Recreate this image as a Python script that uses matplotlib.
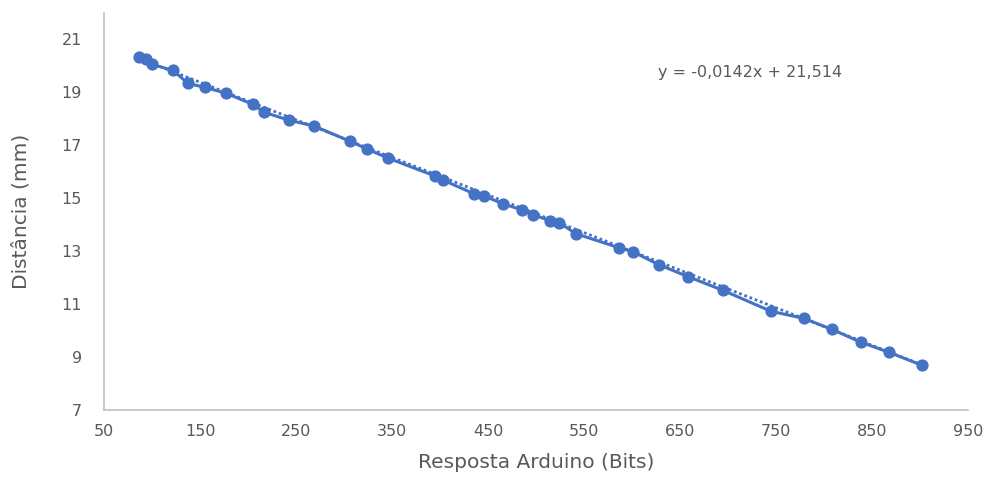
import matplotlib
matplotlib.use("Agg")
import matplotlib.pyplot as plt
import numpy as np

resposta_bits = [86.5, 93.8, 100, 121.9, 137.5, 155.2, 177, 205, 216.7, 242.7,
                 268.8, 306, 324, 345.8, 394.8, 403, 435.4, 445.8, 465.6, 485.4,
                 496.9, 514.6, 524, 541.7, 586.5, 601, 628, 658.3, 694.8, 744.8,
                 779, 808, 838.5, 867.7, 902]
distancia_mm = [20.32, 20.25, 20.06, 19.83, 19.34, 19.19, 18.97, 18.55, 18.25, 17.95,
                17.73, 17.16, 16.86, 16.52, 15.84, 15.69, 15.17, 15.09, 14.79, 14.56,
                14.38, 14.15, 14.08, 13.66, 13.13, 12.98, 12.49, 12.04, 11.52, 10.73,
                10.46, 10.05, 9.56, 9.18, 8.69]
trend_slope = -0.0142
trend_intercept = 21.514
x_ticks = [50, 150, 250, 350, 450, 550, 650, 750, 850, 950]
y_ticks = [7, 9, 11, 13, 15, 17, 19, 21]
equation = "y = -0,0142x + 21,514"

blue = "#4472C4"
grey_txt = "#595959"

fig = plt.figure(figsize=(9.84, 4.91), dpi=100)
ax = fig.add_axes([0.1057, 0.165, 0.878, 0.8085])

x = np.array(resposta_bits)
ax.plot(x, distancia_mm, color=blue, lw=2.2, marker="o", markersize=7.8,
        markeredgecolor=blue, markerfacecolor=blue, zorder=3)
xt = np.array([x.min(), x.max()])
ax.plot(xt, trend_slope * xt + trend_intercept, color=blue, lw=2.0,
        linestyle=(0, (1, 1)), zorder=2)

ax.set_xlim(50, 950)
ax.set_ylim(7, 22)
ax.set_xticks(x_ticks)
ax.set_yticks(y_ticks)
ax.tick_params(axis="x", length=0, labelsize=11.5, colors=grey_txt, pad=10)
ax.tick_params(axis="y", length=0, labelsize=11.5, colors=grey_txt, pad=16)
for s in ["top", "right"]:
    ax.spines[s].set_visible(False)
for s in ["left", "bottom"]:
    ax.spines[s].set_color("#BFBFBF")
    ax.spines[s].set_linewidth(1.2)

ax.set_xlabel("Resposta Arduino (Bits)", fontsize=14.5, color=grey_txt, labelpad=10)
ax.set_ylabel("Distância (mm)", fontsize=14.5, color=grey_txt, labelpad=22)

fig.text(750 / 984, 1 - 73 / 491, equation, fontsize=11.5,
         color=grey_txt, ha="center", va="center")

fig.savefig("out.png", dpi=100, facecolor="white")
